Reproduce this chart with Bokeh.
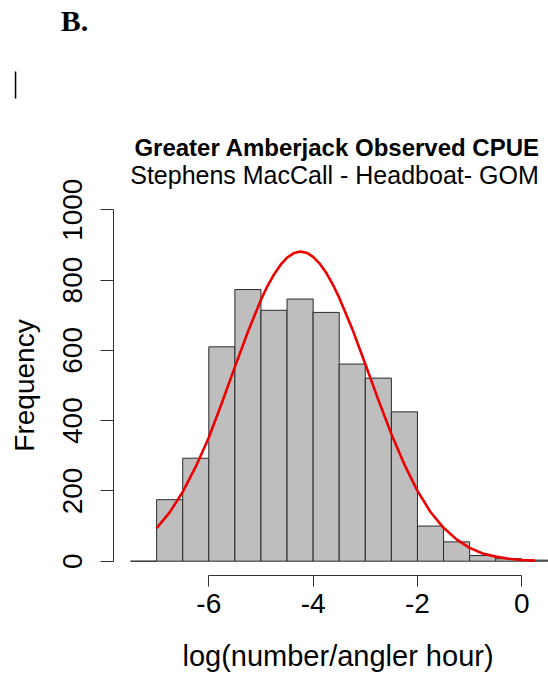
from bokeh.plotting import figure
from bokeh.models import Range1d, FixedTicker, Label, BoxAnnotation, ColumnDataSource, PrintfTickFormatter
from bokeh.embed import file_html
from bokeh.resources import INLINE

# ---- data ----
bin_left = [-7.5, -7.0, -6.5, -6.0, -5.5, -5.0, -4.5, -4.0, -3.5, -3.0, -2.5, -2.0, -1.5, -1.0, -0.5, 0.0]
bin_width = 0.5
counts = [0, 175, 293, 610, 773, 714, 746, 708, 561, 521, 425, 100, 55, 16, 7, 3]

curve_x = [-7.0, -6.75, -6.5, -6.25, -6.0, -5.75, -5.5, -5.25, -5.0, -4.875, -4.75, -4.625,
           -4.5, -4.375, -4.25, -4.125, -4.0, -3.875, -3.75, -3.625, -3.5, -3.25, -3.0,
           -2.75, -2.5, -2.25, -2.0, -1.75, -1.5, -1.25, -1.0, -0.75, -0.5, -0.25, 0.0, 0.25]
curve_y = [94, 139, 197, 269, 352, 450, 553, 653, 744, 783, 816, 843,
           864, 876, 881, 878, 866, 847, 821, 788, 750, 661, 561,
           459, 362, 275, 200, 140, 95, 62, 38, 22, 13, 7, 3.5, 1.5]

x_ticks = [-6, -4, -2, 0]
y_ticks = [0, 200, 400, 600, 800, 1000]

title_text = "Greater Amberjack Observed CPUE"
subtitle_text = "Stephens MacCall - Headboat- GOM"
x_label = "log(number/angler hour)"
y_label = "Frequency"
panel_label = "B."

FONT = "Liberation Sans"

p = figure(width=548, height=677, output_backend="svg", toolbar_location=None,
           x_range=Range1d(-9.993, 0.512), y_range=Range1d(-331.0, 1595.6),
           min_border_left=0, min_border_right=0, min_border_top=0, min_border_bottom=0)
p.outline_line_color = None
p.xgrid.visible = False
p.ygrid.visible = False
p.background_fill_color = "white"
p.border_fill_color = "white"

src = ColumnDataSource(dict(left=bin_left,
                            right=[b + bin_width for b in bin_left],
                            top=counts,
                            bottom=[0] * len(counts)))
p.quad(left="left", right="right", top="top", bottom="bottom", source=src,
       fill_color="#BEBEBE", line_color="#2a2a2a", line_width=1)
p.line(curve_x, curve_y, line_color="#EE0000", line_width=2.6, line_join="round")

# x axis (R style: offset below the data, spanning the tick range only)
xa = p.xaxis[0]
xa.fixed_location = -40.5
xa.ticker = FixedTicker(ticks=x_ticks)
xa.formatter = PrintfTickFormatter(format="%d")
xa.bounds = (-6, 0)
xa.major_tick_out = 11
xa.major_tick_in = 0
xa.minor_tick_line_color = None
xa.axis_line_color = "#333333"
xa.major_tick_line_color = "#333333"
xa.major_label_text_font = FONT
xa.major_label_text_font_size = "28px"
xa.major_label_text_color = "black"
xa.major_label_standoff = 8

# y axis
ya = p.yaxis[0]
ya.fixed_location = -7.83
ya.ticker = FixedTicker(ticks=y_ticks)
ya.formatter = PrintfTickFormatter(format="%d")
ya.bounds = (0, 1000)
ya.major_tick_out = 13
ya.major_tick_in = 0
ya.minor_tick_line_color = None
ya.axis_line_color = "#333333"
ya.major_tick_line_color = "#333333"
ya.major_label_orientation = "vertical"
ya.major_label_text_font = FONT
ya.major_label_text_font_size = "28px"
ya.major_label_text_color = "black"
ya.major_label_standoff = 18
ya.axis_label = y_label
ya.axis_label_text_font = FONT
ya.axis_label_text_font_size = "28px"
ya.axis_label_text_font_style = "normal"
ya.axis_label_text_color = "black"
ya.axis_label_standoff = 21

p.add_layout(Label(x=-3.523, y=-271.0, text=x_label, text_align="center",
                   text_baseline="alphabetic", text_font=FONT, text_font_size="29px",
                   text_color="black"))
p.add_layout(Label(x=-3.539, y=1176.7, text=title_text, text_align="center",
                   text_baseline="alphabetic", text_font=FONT, text_font_size="24px",
                   text_font_style="bold", text_color="black"))
p.add_layout(Label(x=-3.591, y=1099.0, text=subtitle_text, text_align="center",
                   text_baseline="alphabetic", text_font=FONT, text_font_size="25px",
                   text_color="black"))
p.add_layout(Label(x=-8.84, y=1538.0, text=panel_label, text_align="left",
                   text_baseline="alphabetic", text_font="Liberation Serif", text_font_size="30px",
                   text_font_style="bold", text_color="black"))
p.add_layout(BoxAnnotation(left=-9.719, right=-9.690, bottom=1316.8, top=1393.6,
                           fill_color="black", fill_alpha=1.0, line_color=None))

open("out.html", "w").write(file_html(p, INLINE))
